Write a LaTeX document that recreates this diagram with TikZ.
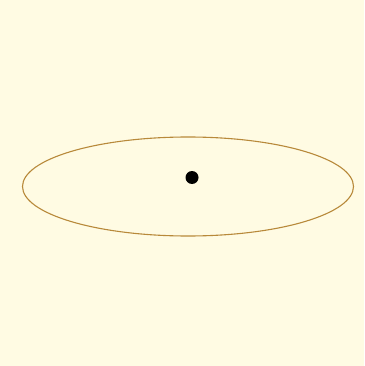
\documentclass[tikz,border=0pt]{standalone}
\usetikzlibrary{shapes.geometric}
\definecolor{bgyellow}{HTML}{FFFBE3}
\definecolor{rimbrown}{HTML}{B8893A}
\begin{document}
\begin{tikzpicture}[x=1pt,y=-1pt,
  orbit/.style={draw=rimbrown,line width=1.1pt,ellipse,inner sep=0pt,minimum width=331pt,minimum height=99pt},
  centre/.style={fill=black,circle,inner sep=0pt,minimum size=13pt}]
\fill[bgyellow] (0,0) rectangle (364,366);
\useasboundingbox (0,0) rectangle (364,366);
\node[orbit] (ell) at (188,186.5) {};
\node[centre] (dot) at (192,177.5) {};
\end{tikzpicture}
\end{document}
